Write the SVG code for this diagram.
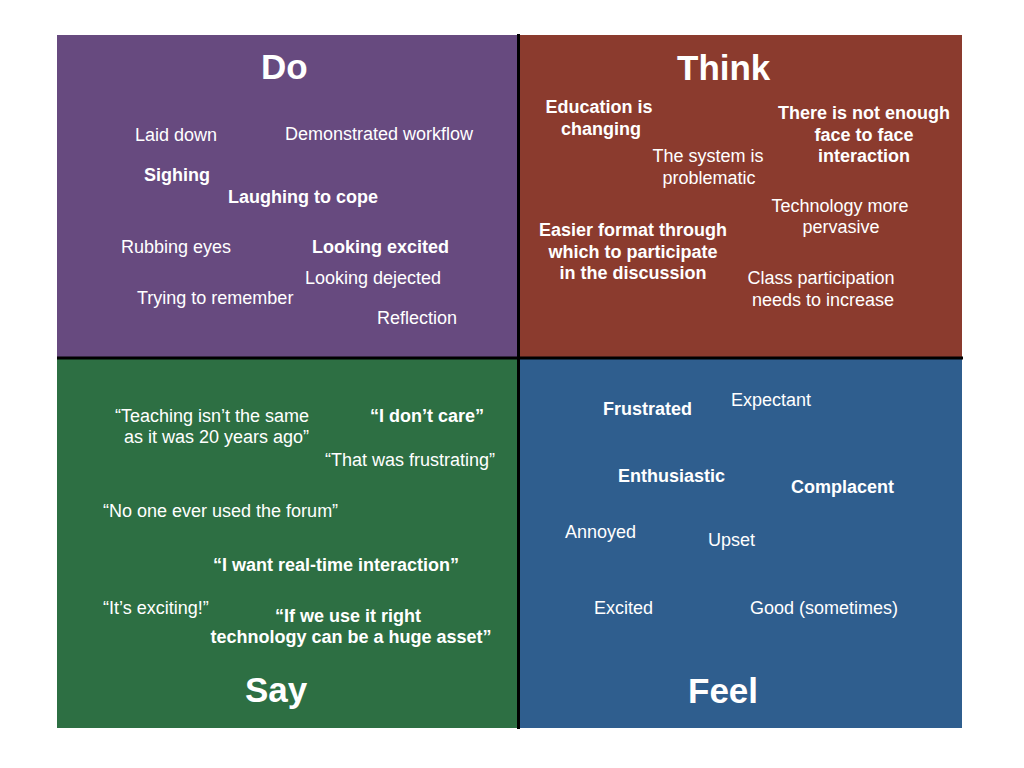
<svg xmlns="http://www.w3.org/2000/svg" width="1024" height="768" viewBox="0 0 1024 768">
<style>
text{font-family:"Liberation Sans",Arial,sans-serif;fill:#ffffff;font-size:18px}
.b{font-weight:bold}
.t{font-size:35px;font-weight:bold}
.m{text-anchor:middle}
.e{text-anchor:end}
.div{stroke:#000;stroke-width:3}
</style>
<rect width="1024" height="768" fill="#ffffff"/>
<g id="quad-do">
<rect x="57" y="35" width="462" height="323" fill="#674a7f"/>
<text class="t" x="261" y="79">Do</text>
</g>
<g id="quad-think">
<rect x="519" y="35" width="443" height="323" fill="#8b3b2e"/>
<text class="t" x="677" y="80">Think</text>
</g>
<g id="quad-say">
<rect x="57" y="358" width="462" height="370" fill="#2d6f43"/>
<text class="t" x="245" y="702">Say</text>
</g>
<g id="quad-feel">
<rect x="519" y="358" width="443" height="370" fill="#2f5e8e"/>
<text class="t" x="688" y="703">Feel</text>
</g>
<g id="connectors">
<line class="div" x1="518.5" y1="34" x2="518.5" y2="729"/>
<line class="div" x1="57" y1="358" x2="963" y2="358"/>
</g>
<g id="do-items">
<g id="laid-down"><text x="135" y="141">Laid down</text></g>
<g id="demonstrated-workflow"><text x="285" y="140">Demonstrated workflow</text></g>
<g id="sighing"><text class="b" x="144" y="181">Sighing</text></g>
<g id="laughing"><text class="b" x="228" y="203">Laughing to cope</text></g>
<g id="rubbing-eyes"><text x="121" y="253">Rubbing eyes</text></g>
<g id="looking-excited"><text class="b" x="312" y="253">Looking excited</text></g>
<g id="looking-dejected"><text x="305" y="284">Looking dejected</text></g>
<g id="trying"><text x="137" y="304">Trying to remember</text></g>
<g id="reflection"><text x="377" y="324">Reflection</text></g>
</g>
<g id="think-items">
<g id="education"><text class="b m" x="599" y="113">Education is</text><text class="b m" x="601" y="135">changing</text></g>
<g id="system"><text class="m" x="708" y="162">The system is</text><text class="m" x="709" y="184">problematic</text></g>
<g id="face"><text class="b m" x="864" y="119">There is not enough</text><text class="b m" x="864" y="141">face to face</text><text class="b m" x="864" y="162">interaction</text></g>
<g id="technology"><text class="m" x="840" y="212">Technology more</text><text class="m" x="841" y="233">pervasive</text></g>
<g id="easier"><text class="b m" x="633" y="236">Easier format through</text><text class="b m" x="633" y="258">which to participate</text><text class="b m" x="633" y="279">in the discussion</text></g>
<g id="class"><text class="m" x="821" y="284">Class participation</text><text class="m" x="823" y="306">needs to increase</text></g>
</g>
<g id="say-items">
<g id="teaching"><text class="e" x="309" y="422">“Teaching isn’t the same</text><text class="e" x="309" y="443">as it was 20 years ago”</text></g>
<g id="dont-care"><text class="b" x="370" y="422">“I don’t care”</text></g>
<g id="frustrating"><text x="325" y="466">“That was frustrating”</text></g>
<g id="forum"><text x="103" y="517">“No one ever used the forum”</text></g>
<g id="real-time"><text class="b" x="213" y="571">“I want real-time interaction”</text></g>
<g id="exciting"><text x="103" y="614">“It’s exciting!”</text></g>
<g id="asset"><text class="b m" x="348" y="622">“If we use it right</text><text class="b m" x="351" y="643">technology can be a huge asset”</text></g>
</g>
<g id="feel-items">
<g id="frustrated"><text class="b" x="603" y="415">Frustrated</text></g>
<g id="expectant"><text x="731" y="406">Expectant</text></g>
<g id="enthusiastic"><text class="b" x="618" y="482">Enthusiastic</text></g>
<g id="complacent"><text class="b" x="791" y="493">Complacent</text></g>
<g id="annoyed"><text x="565" y="538">Annoyed</text></g>
<g id="upset"><text x="708" y="546">Upset</text></g>
<g id="excited"><text x="594" y="614">Excited</text></g>
<g id="good"><text x="750" y="614">Good (sometimes)</text></g>
</g>
</svg>
